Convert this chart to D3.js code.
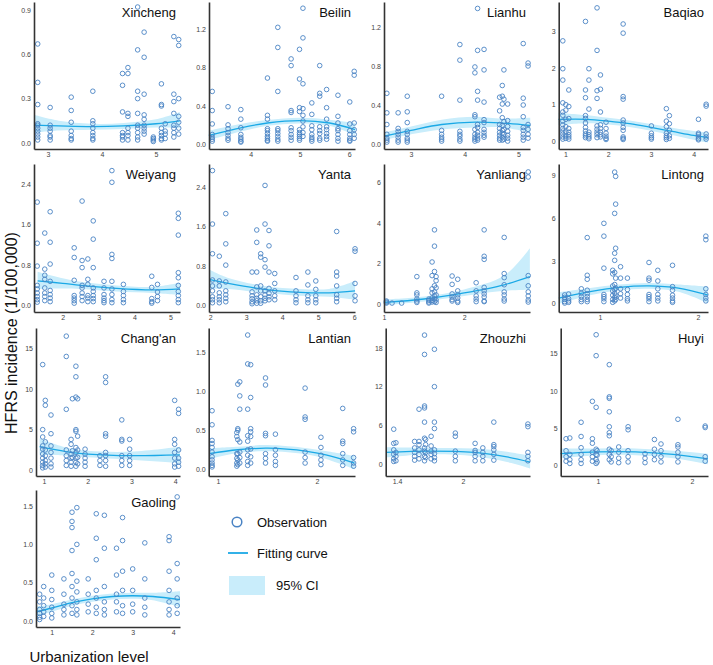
<!DOCTYPE html>
<html>
<head>
<meta charset="utf-8">
<script src="https://cdn.jsdelivr.net/npm/d3@7"></script>
<style>
  body { margin: 0; background: #fff; }
  svg { font-family: "Liberation Sans", Arial, sans-serif; }
</style>
</head>
<body>
<div id="chart"></div>
<script>
// observations: [urbanization level, [monthly incidence values...]]
const xinchengObs = [
  [2.81, [0.67, 0.41, 0.26, 0.13, 0.12, 0.10, 0.08, 0.06, 0.04, 0.02]],
  [3.04, [0.24, 0.12, 0.10, 0.08, 0.05, 0.04, 0.02]],
  [3.43, [0.31, 0.22, 0.14, 0.08, 0.05, 0.03, 0.02]],
  [3.83, [0.35, 0.15, 0.13, 0.10, 0.07, 0.05, 0.03, 0.02]],
  [4.38, [0.47, 0.39, 0.21, 0.07, 0.05, 0.04, 0.02]],
  [4.48, [0.51, 0.47, 0.20, 0.18, 0.10, 0.07, 0.05, 0.02]],
  [4.66, [0.92, 0.63, 0.35, 0.30, 0.20, 0.12, 0.10, 0.07, 0.04, 0.02]],
  [4.78, [0.75, 0.58, 0.33, 0.19, 0.16, 0.12, 0.10, 0.08, 0.06]],
  [4.95, [0.04, 0.03, 0.02, 0.01]],
  [5.10, [0.40, 0.26, 0.25, 0.10, 0.07, 0.05, 0.03, 0.02]],
  [5.17, [0.13, 0.08, 0.06, 0.03]],
  [5.33, [0.72, 0.33, 0.28, 0.20, 0.12, 0.10, 0.07, 0.04]],
  [5.42, [0.70, 0.66, 0.30, 0.18, 0.14, 0.10, 0.06]]
];
const xinchengFit = [[2.74, 0.12, 0.07, 0.19], [3.2, 0.115, 0.085, 0.15], [3.8, 0.11, 0.09, 0.13],
  [4.4, 0.115, 0.095, 0.135], [5.0, 0.13, 0.105, 0.16], [5.44, 0.15, 0.10, 0.21]];

const beilinObs = [
  [3.22, [0.55, 0.35, 0.21, 0.10, 0.07, 0.05, 0.03]],
  [3.54, [0.39, 0.20, 0.16, 0.12, 0.09, 0.06, 0.04]],
  [3.80, [0.36, 0.26, 0.17, 0.10, 0.07, 0.05, 0.03, 0.02]],
  [4.34, [0.69, 0.30, 0.26, 0.16, 0.14, 0.11, 0.08, 0.06, 0.04, 0.03]],
  [4.55, [1.22, 1.01, 0.55, 0.16, 0.14, 0.11, 0.08, 0.05, 0.03]],
  [4.82, [0.89, 0.82, 0.35, 0.33, 0.17, 0.14, 0.10, 0.07, 0.04]],
  [4.99, [0.99, 0.68, 0.38, 0.34, 0.15, 0.12, 0.10, 0.08, 0.06, 0.04]],
  [5.06, [1.42, 1.11, 0.63, 0.37, 0.30, 0.24, 0.18, 0.12, 0.08]],
  [5.24, [0.43, 0.31, 0.19, 0.15, 0.10, 0.07, 0.05, 0.03]],
  [5.40, [0.82, 0.53, 0.50, 0.18, 0.14, 0.11, 0.06, 0.04]],
  [5.54, [0.57, 0.38, 0.26, 0.18, 0.15, 0.11, 0.08, 0.05]],
  [5.77, [0.51, 0.29, 0.22, 0.16, 0.14, 0.10, 0.06, 0.03]],
  [6.01, [0.44, 0.21, 0.14, 0.10, 0.06, 0.04, 0.03]],
  [6.10, [0.76, 0.72, 0.22, 0.15, 0.10, 0.06]]
];
const beilinFit = [[3.15, 0.09, 0.04, 0.14], [3.8, 0.17, 0.13, 0.21], [4.34, 0.22, 0.19, 0.25],
  [5.0, 0.245, 0.215, 0.275], [5.6, 0.22, 0.19, 0.255], [6.12, 0.15, 0.09, 0.22]];

const lianhuObs = [
  [2.55, [0.52, 0.32, 0.20, 0.10, 0.06, 0.04, 0.02]],
  [2.76, [0.32, 0.16, 0.13, 0.10, 0.07, 0.04, 0.02]],
  [2.93, [0.49, 0.33, 0.22, 0.13, 0.10, 0.06, 0.04, 0.02]],
  [3.57, [0.49, 0.14, 0.10, 0.07, 0.05, 0.03]],
  [3.91, [1.02, 0.86, 0.45, 0.13, 0.10, 0.08, 0.05, 0.03]],
  [4.19, [0.79, 0.73, 0.30, 0.28, 0.15, 0.10, 0.07, 0.05, 0.03]],
  [4.24, [1.39, 0.96, 0.54, 0.45, 0.20, 0.17, 0.12, 0.09, 0.06, 0.04]],
  [4.36, [0.97, 0.76, 0.43, 0.25, 0.22, 0.15, 0.12, 0.09, 0.07]],
  [4.65, [0.48, 0.34, 0.20, 0.16, 0.12, 0.09, 0.06, 0.04]],
  [4.70, [0.60, 0.49, 0.41, 0.27, 0.19, 0.14, 0.11, 0.07, 0.04]],
  [4.73, [0.76, 0.46, 0.23, 0.15, 0.10, 0.05]],
  [4.80, [0.41, 0.24, 0.18, 0.13, 0.09, 0.06, 0.03]],
  [5.09, [1.03, 0.47, 0.40, 0.28, 0.17, 0.14, 0.10, 0.07, 0.04]],
  [5.18, [0.83, 0.80, 0.20, 0.15, 0.10, 0.06]]
];
const lianhuFit = [[2.5, 0.08, 0.04, 0.12], [3.0, 0.14, 0.10, 0.18], [3.57, 0.20, 0.15, 0.25],
  [4.2, 0.225, 0.17, 0.28], [4.7, 0.215, 0.17, 0.26], [5.22, 0.19, 0.12, 0.27]];

const baqiaoObs = [
  [0.94, [2.74, 1.98, 1.67, 1.05, 0.80, 0.71, 0.55, 0.45, 0.35, 0.28, 0.20, 0.12, 0.06]],
  [1.01, [1.00, 0.85, 0.60, 0.40, 0.25, 0.15, 0.08]],
  [1.08, [1.40, 0.95, 0.62, 0.35, 0.25, 0.18, 0.12, 0.06]],
  [1.47, [3.27, 1.40, 1.19, 0.70, 0.62, 0.50, 0.38, 0.28, 0.20, 0.15, 0.10]],
  [1.55, [1.98, 1.67, 0.88, 0.25, 0.18, 0.12, 0.07]],
  [1.74, [3.64, 2.48, 1.38, 1.17, 0.42, 0.33, 0.25, 0.18, 0.10]],
  [1.82, [1.81, 1.42, 0.80, 0.45, 0.35, 0.25, 0.18, 0.12]],
  [1.95, [0.52, 0.35, 0.22, 0.14, 0.08, 0.05]],
  [2.35, [3.20, 2.95, 1.22, 1.15, 0.58, 0.50, 0.38, 0.30, 0.12, 0.08, 0.05]],
  [3.01, [0.42, 0.22, 0.15, 0.10, 0.06]],
  [3.36, [0.89, 0.55, 0.40, 0.22, 0.15, 0.10, 0.05]],
  [3.43, [0.70, 0.48, 0.30, 0.15, 0.08]],
  [4.11, [0.60, 0.22, 0.18, 0.12, 0.07, 0.04]],
  [4.29, [1.01, 0.96, 0.20, 0.12, 0.06]]
];
const baqiaoFit = [[0.84, 0.60, 0.44, 0.78], [1.5, 0.60, 0.49, 0.71], [2.0, 0.55, 0.46, 0.64],
  [2.5, 0.48, 0.39, 0.57], [3.0, 0.38, 0.29, 0.47], [3.5, 0.27, 0.17, 0.37], [4.0, 0.16, 0.04, 0.28], [4.33, 0.10, -0.04, 0.24]];

const weiyangObs = [
  [1.29, [2.04, 1.23, 0.78, 0.40, 0.33, 0.25, 0.18, 0.12, 0.07]],
  [1.50, [1.43, 0.72, 0.60, 0.52, 0.35, 0.25, 0.18, 0.10]],
  [1.65, [1.85, 1.25, 0.82, 0.48, 0.30, 0.22, 0.15, 0.08]],
  [2.32, [1.14, 0.95, 0.50, 0.20, 0.15, 0.10, 0.05]],
  [2.54, [2.06, 0.89, 0.75, 0.40, 0.35, 0.25, 0.18, 0.10]],
  [2.70, [0.92, 0.52, 0.42, 0.20, 0.15, 0.08]],
  [2.85, [1.67, 1.31, 0.75, 0.35, 0.28, 0.20, 0.14, 0.08]],
  [3.15, [0.48, 0.35, 0.22, 0.15, 0.10, 0.06]],
  [3.37, [2.66, 2.43, 1.01, 0.93, 0.48, 0.33, 0.22, 0.12, 0.06]],
  [3.69, [0.42, 0.28, 0.20, 0.12, 0.06]],
  [4.48, [0.58, 0.36, 0.14, 0.08, 0.05]],
  [4.64, [0.42, 0.27, 0.18, 0.10]],
  [5.22, [1.82, 1.72, 1.39, 0.65, 0.55, 0.40, 0.28, 0.20, 0.12, 0.06]]
];
const weiyangFit = [[1.3, 0.49, 0.33, 0.67], [2.0, 0.44, 0.34, 0.54], [2.5, 0.40, 0.33, 0.47],
  [3.5, 0.34, 0.28, 0.40], [4.5, 0.31, 0.25, 0.37], [5.27, 0.33, 0.21, 0.45]];

const yantaObs = [
  [2.06, [2.73, 1.65, 1.05, 0.52, 0.40, 0.30, 0.18, 0.12, 0.06]],
  [2.25, [1.00, 0.50, 0.40, 0.26, 0.18, 0.12, 0.06]],
  [2.43, [1.86, 1.25, 0.82, 0.48, 0.30, 0.22, 0.15, 0.08]],
  [3.16, [0.68, 0.28, 0.20, 0.14, 0.08, 0.04]],
  [3.29, [1.53, 1.28, 0.68, 0.38, 0.22, 0.15, 0.10, 0.05]],
  [3.40, [1.05, 0.98, 0.40, 0.30, 0.18, 0.10, 0.05]],
  [3.52, [2.43, 1.65, 0.93, 0.78, 0.30, 0.22, 0.15, 0.10]],
  [3.63, [1.52, 1.21, 0.68, 0.35, 0.25, 0.18, 0.12]],
  [3.79, [0.65, 0.45, 0.30, 0.20, 0.12]],
  [4.38, [0.57, 0.30, 0.20, 0.12, 0.06]],
  [4.71, [0.68, 0.42, 0.20, 0.12, 0.06]],
  [4.93, [0.50, 0.33, 0.20, 0.12, 0.06]],
  [5.51, [1.50, 0.68, 0.60, 0.40, 0.22, 0.15, 0.08]],
  [6.02, [1.15, 1.10, 0.45, 0.20, 0.10]]
];
const yantaFit = [[1.97, 0.53, 0.34, 0.73], [2.5, 0.45, 0.34, 0.56], [3.5, 0.33, 0.26, 0.40],
  [4.5, 0.27, 0.20, 0.34], [5.3, 0.26, 0.18, 0.34], [6.02, 0.30, 0.12, 0.50]];

const yanliangObs = [
  [1.03, [0.15, 0.10, 0.05]],
  [1.10, [0.05]],
  [1.22, [0.05]],
  [1.41, [1.35, 0.55, 0.45, 0.25, 0.15, 0.08]],
  [1.56, [0.25, 0.18, 0.10, 0.05]],
  [1.60, [2.07, 1.40, 0.75, 0.55, 0.30, 0.18, 0.10]],
  [1.63, [3.65, 2.85, 1.60, 0.90, 0.60, 0.40, 0.25, 0.12]],
  [1.65, [1.35, 1.15, 0.80, 0.45, 0.20, 0.08]],
  [1.85, [1.38, 0.97, 0.50, 0.35, 0.22, 0.15]],
  [1.92, [1.22, 0.65, 0.45, 0.30, 0.15, 0.08]],
  [2.15, [1.05, 0.65, 0.40, 0.25, 0.12]],
  [2.25, [3.65, 2.35, 2.20, 0.82, 0.65, 0.50, 0.35, 0.15, 0.12]],
  [2.50, [3.28, 1.50, 1.30, 0.95, 0.60, 0.45, 0.25, 0.15]],
  [2.80, [6.50, 6.25, 1.40, 0.90, 0.60, 0.40, 0.20, 0.10]]
];
const yanliangFit = [[1.0, 0.08, -0.05, 0.22], [1.5, 0.25, 0.13, 0.37], [2.0, 0.55, 0.40, 0.72],
  [2.5, 0.95, 0.65, 1.40], [2.82, 1.35, 0.70, 2.75]];

const lintongObs = [
  [0.64, [0.62, 0.45, 0.30, 0.15, 0.05]],
  [0.68, [0.68, 0.35, 0.20, 0.10]],
  [0.81, [1.05, 0.75, 0.50, 0.30, 0.15]],
  [0.87, [4.65, 2.00, 1.72, 0.95, 0.70, 0.50, 0.30, 0.15]],
  [1.04, [5.65, 4.75, 2.50, 0.65, 0.50, 0.35, 0.15]],
  [1.13, [2.35, 2.10, 1.25, 0.90, 0.60, 0.30, 0.10]],
  [1.15, [9.25, 6.35, 3.55, 3.05, 2.20, 1.35, 1.00, 0.75, 0.45, 0.20]],
  [1.16, [8.95, 7.00, 3.90, 1.80, 1.10, 0.60, 0.30]],
  [1.21, [2.60, 1.80, 1.05, 0.70, 0.40]],
  [1.28, [1.80, 1.00, 0.65, 0.35, 0.20]],
  [1.50, [2.90, 1.80, 1.65, 0.65, 0.50, 0.35, 0.15]],
  [1.59, [2.35, 1.60, 1.05, 0.65, 0.40, 0.20]],
  [1.74, [2.70, 1.20, 0.95, 0.60, 0.40, 0.20, 0.10]],
  [2.08, [4.75, 4.50, 1.05, 0.65, 0.40, 0.20]]
];
const lintongFit = [[0.58, 0.40, 0.0, 0.80], [0.9, 0.85, 0.60, 1.10], [1.2, 1.15, 0.95, 1.35],
  [1.5, 1.25, 1.05, 1.45], [1.8, 1.10, 0.85, 1.35], [2.1, 0.62, 0.05, 1.20]];

const changanObs = [
  [0.97, [13.0, 5.0, 4.1, 3.0, 2.6, 2.0, 1.5, 1.0, 0.6, 0.3]],
  [1.03, [8.6, 8.0, 3.5, 2.5, 1.8, 1.2, 0.8, 0.4]],
  [1.16, [6.8, 4.5, 3.0, 2.2, 1.5, 0.8, 0.4]],
  [1.51, [16.5, 14.0, 7.5, 2.5, 1.8, 1.2, 0.6]],
  [1.62, [3.8, 3.2, 2.0, 1.5, 1.0, 0.5]],
  [1.65, [8.8, 2.4, 1.6]],
  [1.73, [12.8, 11.5, 9.0, 5.0, 4.8, 2.8, 2.2, 1.5, 1.0, 0.5]],
  [1.77, [8.8, 4.2, 2.5, 1.6, 0.8]],
  [1.94, [2.6, 2.0, 1.5, 1.0, 0.5]],
  [2.28, [1.8, 1.2, 0.6]],
  [2.41, [11.5, 10.8, 4.5, 4.2, 2.2, 1.8, 1.2, 0.5]],
  [2.78, [6.2, 3.8, 3.6, 1.8, 1.2, 0.6]],
  [2.96, [3.8, 2.6, 1.8, 1.2, 0.6]],
  [3.99, [8.6, 3.8, 3.2, 2.2, 1.5, 0.8, 0.4]],
  [4.08, [7.5, 7.0, 2.5, 1.5, 1.0, 0.5]]
];
const changanFit = [[0.9, 2.9, 1.9, 3.9], [1.5, 2.3, 1.8, 2.8], [2.0, 2.0, 1.6, 2.4],
  [3.0, 1.8, 1.3, 2.3], [4.11, 1.9, 0.9, 2.9]];

const lantianObs = [
  [0.94, [0.75, 0.57, 0.37, 0.33, 0.28, 0.22, 0.16, 0.12, 0.08, 0.05, 0.03]],
  [1.19, [0.47, 0.42, 0.20, 0.14, 0.08, 0.04]],
  [1.20, [1.09, 0.52, 0.50, 0.38, 0.20, 0.12, 0.06]],
  [1.22, [1.12, 0.94, 0.77, 0.35, 0.22, 0.15, 0.08]],
  [1.30, [1.72, 1.35, 0.77, 0.43, 0.36, 0.25, 0.18, 0.10, 0.05]],
  [1.33, [1.34, 0.92, 0.52, 0.48, 0.42, 0.26, 0.16, 0.08]],
  [1.48, [1.17, 1.08, 0.46, 0.43, 0.20, 0.14, 0.08]],
  [1.58, [0.45, 0.25, 0.18, 0.10, 0.05]],
  [1.88, [1.04, 0.67, 0.64, 0.22, 0.15, 0.08]],
  [2.04, [0.41, 0.28, 0.18, 0.12, 0.06]],
  [2.26, [0.78, 0.36, 0.33, 0.20, 0.12, 0.05]],
  [2.37, [0.52, 0.48, 0.15, 0.08, 0.04]]
];
const lantianFit = [[0.91, 0.20, 0.13, 0.27], [1.2, 0.25, 0.21, 0.29], [1.5, 0.27, 0.23, 0.31],
  [1.9, 0.23, 0.19, 0.27], [2.1, 0.18, 0.13, 0.23], [2.38, 0.08, 0.0, 0.17]];

const zhouzhiObs = [
  [1.37, [5.4, 3.2, 2.2, 1.5, 0.8, 0.4]],
  [1.39, [3.3, 1.8, 1.2, 0.5]],
  [1.56, [3.5, 2.5, 1.8, 1.2, 0.6]],
  [1.60, [8.5, 3.5, 3.0, 2.2, 1.5, 0.8]],
  [1.65, [20.0, 17.0, 9.0, 8.7, 6.5, 4.0, 2.5, 2.0, 1.2, 0.5]],
  [1.66, [3.8, 3.0, 1.8, 1.0]],
  [1.71, [4.3, 2.8, 2.0, 1.5, 0.8]],
  [1.74, [17.8, 12.0, 6.5, 5.5, 2.2, 1.6, 1.0, 0.5]],
  [1.93, [4.8, 4.3, 2.0, 1.2, 0.5]],
  [2.11, [3.2, 2.1, 1.8, 1.2, 0.5]],
  [2.18, [2.5, 1.8, 1.2, 0.5]],
  [2.28, [6.5, 3.0, 2.7, 2.2, 1.5, 0.6]],
  [2.59, [6.2, 5.8, 1.8, 1.2, 0.5]]
];
const zhouzhiFit = [[1.3, 1.8, 1.0, 2.6], [1.7, 2.0, 1.5, 2.5], [2.1, 1.8, 1.2, 2.4],
  [2.4, 1.1, 0.3, 1.9], [2.61, 0.3, -0.7, 1.3]];

const huyiObs = [
  [0.66, [3.6, 2.0, 1.2, 0.6]],
  [0.70, [3.7, 1.5, 0.8, 0.3]],
  [0.82, [5.8, 3.9, 2.4, 1.5, 0.8, 0.3]],
  [0.94, [8.6, 3.6, 3.0, 1.8, 1.2, 0.6]],
  [0.98, [17.5, 14.7, 7.8, 2.2, 1.5, 0.8, 0.3]],
  [0.99, [2.0, 1.4, 0.5]],
  [1.12, [13.5, 9.2, 9.0, 7.2, 5.2, 4.4, 4.0, 2.2, 1.5, 0.8]],
  [1.14, [2.0, 1.2, 0.5]],
  [1.22, [2.5, 1.8, 1.0, 0.4]],
  [1.32, [5.2, 4.8, 2.0, 1.2, 0.5]],
  [1.50, [1.6, 1.0, 0.4]],
  [1.60, [3.5, 2.2, 1.5, 0.8]],
  [1.67, [2.9, 2.0, 1.2, 0.5]],
  [1.85, [6.2, 2.8, 2.5, 1.8, 1.2, 0.5]],
  [2.14, [5.3, 5.1, 1.2, 0.6]]
];
const huyiFit = [[0.6, 1.6, 1.0, 2.3], [1.0, 1.85, 1.4, 2.3], [1.4, 1.85, 1.4, 2.3],
  [1.8, 1.5, 1.0, 2.0], [2.17, 0.9, 0.2, 1.6]];

const gaolingObs = [
  [0.70, [0.35, 0.25, 0.15, 0.10, 0.05, 0.02]],
  [0.80, [0.45, 0.30, 0.20, 0.12, 0.06]],
  [1.00, [0.60, 0.40, 0.28, 0.18, 0.10, 0.04]],
  [1.30, [0.55, 0.35, 0.22, 0.15, 0.08]],
  [1.50, [1.42, 1.30, 1.22, 0.92, 0.62, 0.45, 0.30, 0.20, 0.10]],
  [1.62, [1.48, 1.00, 0.52, 0.38, 0.25, 0.15, 0.08]],
  [1.90, [0.55, 0.35, 0.22, 0.12]],
  [2.10, [1.40, 1.08, 0.80, 0.40, 0.30, 0.18, 0.10]],
  [2.30, [1.38, 0.95, 0.45, 0.25, 0.15, 0.08]],
  [2.60, [0.95, 0.60, 0.35, 0.25, 0.12]],
  [2.75, [1.35, 1.05, 0.65, 0.40, 0.20, 0.10]],
  [3.00, [0.68, 0.40, 0.22, 0.12]],
  [3.30, [1.02, 0.55, 0.30, 0.18, 0.08]],
  [3.90, [1.10, 1.05, 0.65, 0.40, 0.25, 0.15, 0.08]],
  [4.10, [1.62, 0.75, 0.55, 0.30, 0.20, 0.10]]
];
const gaolingFit = [[0.61, 0.12, 0.05, 0.19], [1.0, 0.17, 0.12, 0.22], [1.5, 0.24, 0.20, 0.28],
  [2.0, 0.29, 0.25, 0.33], [2.5, 0.32, 0.28, 0.36], [3.0, 0.33, 0.29, 0.37], [3.5, 0.32, 0.27, 0.37], [4.17, 0.28, 0.18, 0.39]];

const panelNames = ["Xincheng", "Beilin", "Lianhu", "Baqiao", "Weiyang", "Yanta", "Yanliang",
  "Lintong", "Chang'an", "Lantian", "Zhouzhi", "Huyi", "Gaoling"];
const xTickValues = [[3, 4, 5], [4, 5, 6], [3, 4, 5], [1, 2, 3, 4], [2, 3, 4, 5], [2, 3, 4, 5, 6],
  [1, 2], [1, 2], [1, 2, 3, 4], [1, 2], [1.4, 2], [1, 2], [1, 2, 3, 4]];
const yTickValues = [[0, 0.3, 0.6, 0.9], [0, 0.4, 0.8, 1.2], [0, 0.4, 0.8, 1.2], [0, 1, 2, 3],
  [0, 0.8, 1.6, 2.4], [0, 0.8, 1.6, 2.4], [0, 2, 4, 6], [0, 3, 6, 9], [0, 5, 10, 15],
  [0, 0.5, 1.0, 1.5], [0, 6, 12, 18], [0, 5, 10, 15], [0, 0.5, 1.0, 1.5]];
const obsData = [xinchengObs, beilinObs, lianhuObs, baqiaoObs, weiyangObs, yantaObs, yanliangObs,
  lintongObs, changanObs, lantianObs, zhouzhiObs, huyiObs, gaolingObs];
const fitData = [xinchengFit, beilinFit, lianhuFit, baqiaoFit, weiyangFit, yantaFit, yanliangFit,
  lintongFit, changanFit, lantianFit, zhouzhiFit, huyiFit, gaolingFit];

// axis ranges (value at left/right edge, bottom/top edge) per panel
const xDomains = [[2.741, 5.444], [3.154, 6.116], [2.497, 5.216], [0.844, 4.333], [1.20, 5.267],
  [1.964, 6.019], [1.0, 2.822], [0.579, 2.102], [0.817, 4.112], [0.906, 2.384], [1.297, 2.609],
  [0.603, 2.17], [0.61, 4.17]];
const yDomains = [[-0.041, 0.954], [-0.052, 1.485], [-0.051, 1.456], [-0.21, 3.80], [-0.124, 2.79],
  [-0.127, 2.863], [-0.39, 6.89], [-0.58, 9.82], [-0.70, 17.5], [-0.086, 1.81], [-1.86, 21.1],
  [-1.38, 18.4], [-0.078, 1.71]];

// pixel boxes
const colLeft = [[34, 209, 384, 558.7], [34, 209, 384, 558.7], [36, 208.7, 385.7, 560.7], [36]];
const colRight = [180, 355, 530, 708];
const rowTop = [2, 164, 328, 490];
const rowBottom = [149, 312, 476, 627];

const ptColor = "#4a83c4", lineColor = "#1ba9e6", bandColor = "#c9edfb";

const svg = d3.select("#chart").append("svg")
  .attr("width", 713)
  .attr("height", 665);

panelNames.forEach((name, i) => {
  const row = Math.floor(i / 4), col = i % 4;
  const left = colLeft[row][col], right = colRight[col];
  const top = rowTop[row], bottom = rowBottom[row];

  const x = d3.scaleLinear().domain(xDomains[i]).range([left, right]);
  const y = d3.scaleLinear().domain(yDomains[i]).range([bottom, top]);

  const g = svg.append("g");

  // confidence band + fit
  const fit = fitData[i];
  g.append("path")
    .datum(fit)
    .attr("fill", bandColor)
    .attr("d", d3.area()
      .x(d => x(d[0]))
      .y0(d => y(d[2]))
      .y1(d => y(d[3]))
      .curve(d3.curveCatmullRom));

  g.append("path")
    .datum(fit)
    .attr("fill", "none")
    .attr("stroke", lineColor)
    .attr("stroke-width", 1.3)
    .attr("d", d3.line()
      .x(d => x(d[0]))
      .y(d => y(d[1]))
      .curve(d3.curveCatmullRom));

  // observations
  const pts = [];
  obsData[i].forEach(d => d[1].forEach(v => pts.push([d[0], v])));
  g.selectAll("circle.obs")
    .data(pts)
    .enter().append("circle")
    .attr("class", "obs")
    .attr("cx", d => x(d[0]))
    .attr("cy", d => y(d[1]))
    .attr("r", 2.3)
    .attr("fill", "none")
    .attr("stroke", ptColor)
    .attr("stroke-width", 0.9);

  // axes
  const yAxis = d3.axisLeft(y).tickValues(yTickValues[i]).tickSize(0).tickPadding(3)
    .tickFormat(yTickValues[i].some(v => v % 1 !== 0) ? d3.format(".1f") : d3.format("d"));
  const xAxis = d3.axisBottom(x).tickValues(xTickValues[i]).tickSize(0).tickPadding(3)
    .tickFormat(d => String(d));

  const ya = g.append("g").attr("transform", `translate(${left},0)`).call(yAxis);
  const xa = g.append("g").attr("transform", `translate(0,${bottom})`).call(xAxis);
  [ya, xa].forEach(a => {
    a.select(".domain").attr("stroke", "#333").attr("stroke-width", 1.6);
    a.selectAll("text").attr("font-size", 7).attr("fill", "#444")
      .attr("font-family", "Liberation Sans, Arial, sans-serif");
  });

  g.append("text")
    .attr("x", right - 4)
    .attr("y", top + (row === 3 ? 17 : 15))
    .attr("text-anchor", "end")
    .attr("font-size", 13)
    .attr("fill", "#111")
    .text(name);
});

// axis titles
svg.append("text")
  .attr("transform", "translate(17,333) rotate(-90)")
  .attr("text-anchor", "middle")
  .attr("font-size", 16)
  .attr("fill", "#111")
  .text("HFRS incidence (1/100,000)");

svg.append("text")
  .attr("x", 89)
  .attr("y", 662)
  .attr("text-anchor", "middle")
  .attr("font-size", 15)
  .attr("fill", "#111")
  .text("Urbanization level");

// legend
const legend = svg.append("g");
legend.append("circle").attr("cx", 237).attr("cy", 522).attr("r", 4.8)
  .attr("fill", "none").attr("stroke", ptColor).attr("stroke-width", 1.5);
legend.append("text").attr("x", 257).attr("y", 527).attr("font-size", 13).attr("fill", "#111").text("Observation");
legend.append("line").attr("x1", 228).attr("x2", 248).attr("y1", 553).attr("y2", 553)
  .attr("stroke", lineColor).attr("stroke-width", 1.8);
legend.append("text").attr("x", 257).attr("y", 558).attr("font-size", 13).attr("fill", "#111").text("Fitting curve");
legend.append("rect").attr("x", 229).attr("y", 576).attr("width", 36).attr("height", 19).attr("fill", bandColor);
legend.append("text").attr("x", 276).attr("y", 590).attr("font-size", 13).attr("fill", "#111").text("95% CI");
</script>
</body>
</html>
